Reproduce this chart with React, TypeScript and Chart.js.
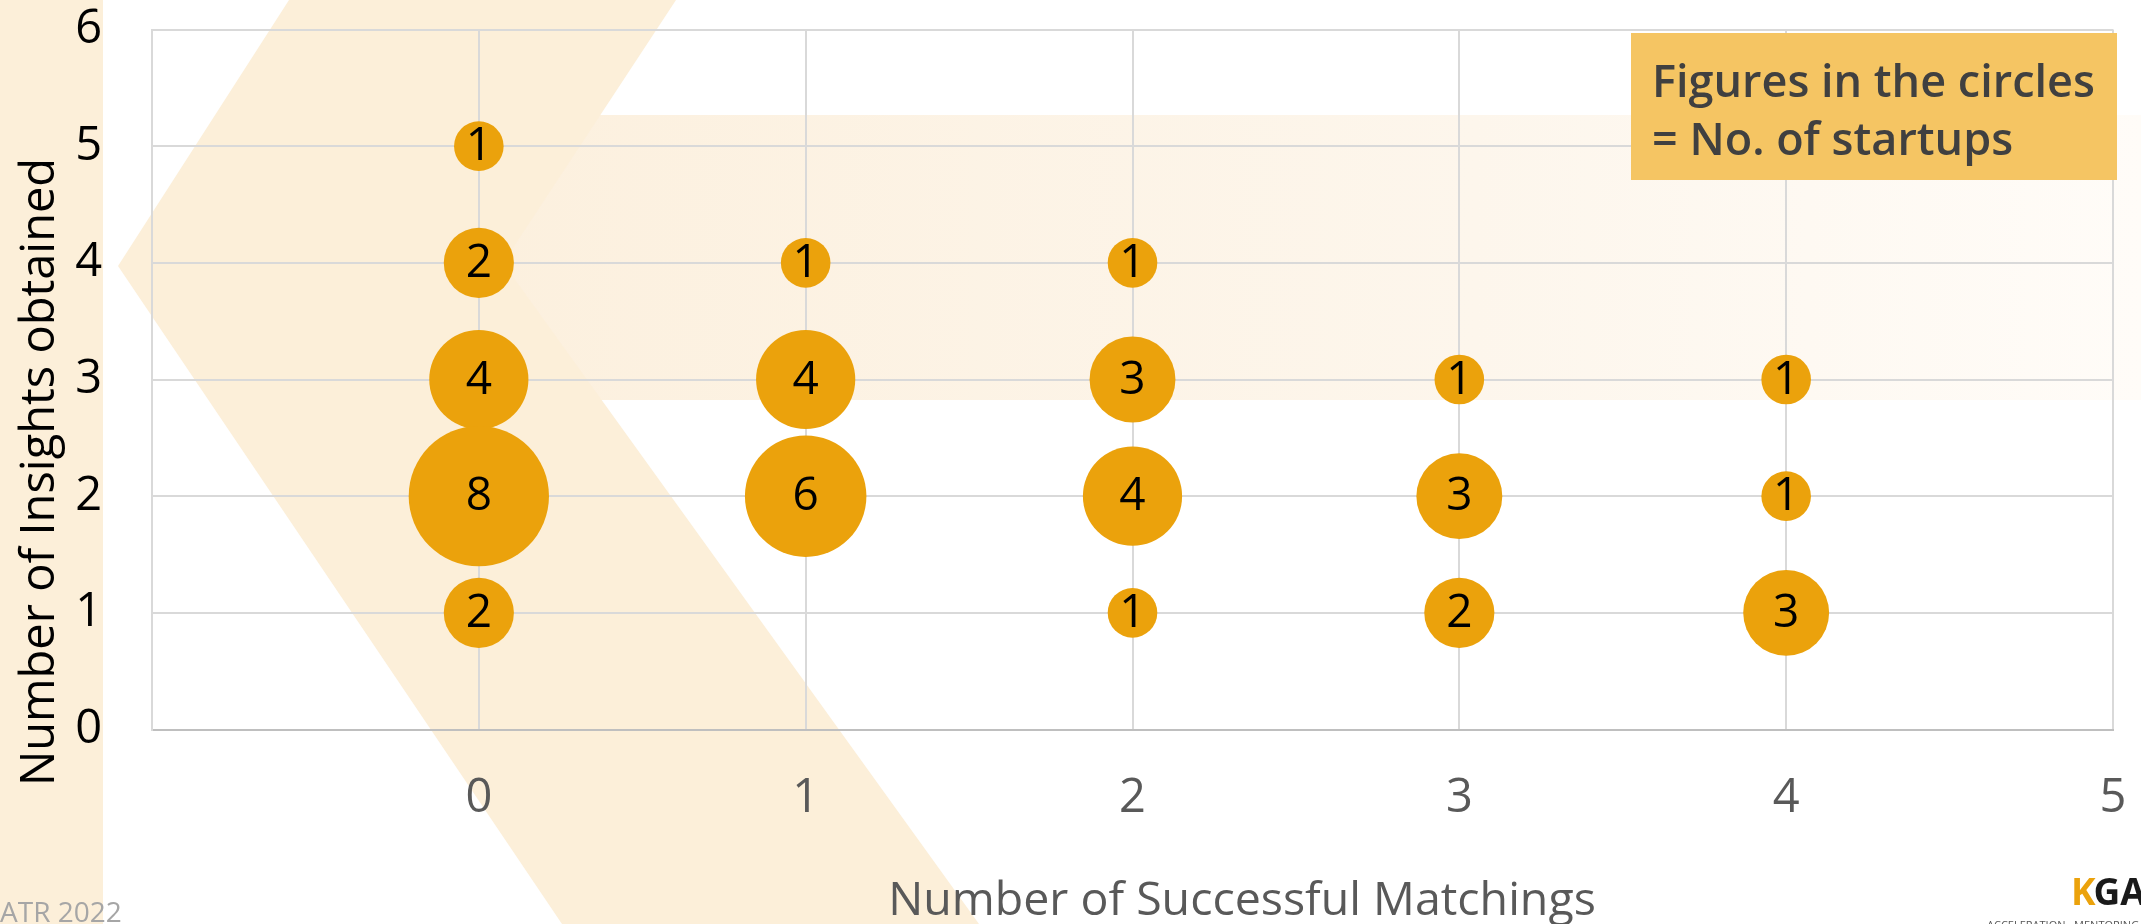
import React, { useEffect, useRef } from "react";
import { Chart, registerables } from "chart.js";

Chart.register(...registerables);

// ---------- data ----------
const matchings = [0, 0, 0, 0, 0, 1, 1, 1, 2, 2, 2, 2, 3, 3, 3, 4, 4, 4];
const insights = [5, 4, 3, 2, 1, 4, 3, 2, 4, 3, 2, 1, 3, 2, 1, 3, 2, 1];
const startups = [1, 2, 4, 8, 2, 1, 4, 6, 1, 3, 4, 1, 1, 3, 2, 1, 1, 3];
const xTickValues = [0, 1, 2, 3, 4, 5];
const yTickValues = [0, 1, 2, 3, 4, 5, 6];
const xTitle = "Number of Successful Matchings";
const yTitle = "Number of Insights obtained";
const noteLines = ["Figures in the circles", "= No. of startups"];
const footerLeft = "ATR 2022";
const logoK = "K";
const logoRest = "GA";
const logoTagline = "ACCELERATION · MENTORING";

// ---------- style ----------
const W = 2141;
const H = 924;
const FONT = '"Open Sans", "Noto Sans", sans-serif';
const BUBBLE = "#EBA20C";
const BEIGE = "#FCEFD9";
const GRID = "#D9D9D9";
const RADIUS_UNIT = 24.8; // px radius for one startup (area ∝ count)

const backgroundPlugin = {
  id: "slideBackground",
  beforeDraw(chart: any) {
    const ctx = chart.ctx as CanvasRenderingContext2D;
    ctx.save();
    ctx.fillStyle = "#FFFFFF";
    ctx.fillRect(0, 0, W, H);
    // left strip
    ctx.fillStyle = BEIGE;
    ctx.fillRect(0, 0, 103, H);
    // horizontal fading band
    const g = ctx.createLinearGradient(480, 0, W, 0);
    g.addColorStop(0, "#FCF0DE");
    g.addColorStop(0.6, "#FDF6EC");
    g.addColorStop(1, "#FFFCF8");
    ctx.fillStyle = g;
    ctx.fillRect(480, 115, W - 480, 285);
    // chevron
    ctx.fillStyle = BEIGE;
    ctx.beginPath();
    ctx.moveTo(289, 0);
    ctx.lineTo(676, 0);
    ctx.lineTo(503, 263);
    ctx.lineTo(979, H);
    ctx.lineTo(562, H);
    ctx.lineTo(118, 266);
    ctx.closePath();
    ctx.fill();
    ctx.restore();
  },
};

const overlayPlugin = {
  id: "overlay",
  afterDatasetsDraw(chart: any) {
    const ctx = chart.ctx as CanvasRenderingContext2D;
    const meta = chart.getDatasetMeta(0);
    ctx.save();
    ctx.fillStyle = "#000000";
    ctx.font = `46px ${FONT}`;
    ctx.textAlign = "center";
    ctx.textBaseline = "middle";
    meta.data.forEach((el: any, i: number) => {
      ctx.fillText(String(startups[i]), el.x, el.y + 1);
    });
    ctx.restore();
  },
  afterDraw(chart: any) {
    const ctx = chart.ctx as CanvasRenderingContext2D;
    ctx.save();
    // axis titles
    ctx.fillStyle = "#595959";
    ctx.font = `46.5px ${FONT}`;
    ctx.textAlign = "center";
    ctx.textBaseline = "alphabetic";
    ctx.fillText(xTitle, 1242, 915);

    ctx.save();
    ctx.translate(54, 472);
    ctx.rotate(-Math.PI / 2);
    ctx.fillStyle = "#000000";
    ctx.font = `47px ${FONT}`;
    ctx.fillText(yTitle, 0, 0);
    ctx.restore();

    // note box
    ctx.fillStyle = "#F5C563";
    ctx.fillRect(1631, 33, 2117 - 1631, 180 - 33);
    ctx.fillStyle = "#404040";
    ctx.font = `600 45px ${FONT}`;
    ctx.textAlign = "left";
    ctx.fillText(noteLines[0], 1652, 97);
    ctx.fillText(noteLines[1], 1652, 155);

    // footer left
    ctx.fillStyle = "#A6A6A6";
    ctx.font = `28px ${FONT}`;
    ctx.fillText(footerLeft, 0, 922);

    // logo
    ctx.font = `700 37px ${FONT}`;
    ctx.fillStyle = BUBBLE;
    ctx.fillText(logoK, 2071, 905);
    const kw = ctx.measureText(logoK).width;
    ctx.fillStyle = "#1A1A1A";
    ctx.fillText(logoRest, 2071 + kw - 2, 905);
    ctx.fillStyle = "#555555";
    ctx.font = `11px ${FONT}`;
    ctx.fillText(logoTagline, 1987, 929);
    ctx.restore();
  },
};

const clearScalePadding = (s: any) => {
  s.paddingTop = 0;
  s.paddingBottom = 0;
  s.paddingLeft = 0;
  s.paddingRight = 0;
};

export default function App() {
  const ref = useRef<HTMLCanvasElement | null>(null);

  useEffect(() => {
    if (!ref.current) return;
    const data = matchings.map((x, i) => ({
      x,
      y: insights[i],
      r: RADIUS_UNIT * Math.sqrt(startups[i]),
    }));
    const chart = new Chart(ref.current, {
      type: "bubble",
      data: {
        datasets: [
          {
            label: "Startups",
            data,
            backgroundColor: BUBBLE,
            borderWidth: 0,
            hoverBorderWidth: 0,
            hoverRadius: 0,
          } as any,
        ],
      },
      plugins: [backgroundPlugin, overlayPlugin],
      options: {
        responsive: false,
        animation: false,
        events: [],
        devicePixelRatio: 1,
        layout: {
          autoPadding: false,
          padding: { left: 0, top: 29.5, right: 28, bottom: 0 },
        },
        plugins: {
          legend: { display: false },
          tooltip: { enabled: false },
          title: { display: false },
        },
        scales: {
          x: {
            type: "linear",
            min: -1,
            max: 5,
            afterBuildTicks: (s: any) => {
              s.ticks = [-1, ...xTickValues].map((v) => ({ value: v }));
            },
            ticks: {
              stepSize: 1,
              color: "#595959",
              font: { family: FONT, size: 47 },
              padding: 41,
              maxRotation: 0,
              autoSkip: false,
              callback: (v: any) => (Number(v) < 0 ? "" : String(v)),
            },
            grid: { color: GRID, lineWidth: 2, drawTicks: false },
            border: { display: true, color: "#BFBFBF", width: 2 },
            afterFit: (s: any) => {
              s.height = 194.5;
              clearScalePadding(s);
            },
          } as any,
          y: {
            type: "linear",
            min: 0,
            max: 6,
            afterBuildTicks: (s: any) => {
              s.ticks = yTickValues.map((v) => ({ value: v }));
            },
            ticks: {
              stepSize: 1,
              color: "#000000",
              font: { family: FONT, size: 47 },
              padding: 50,
              autoSkip: false,
            },
            grid: { color: GRID, lineWidth: 2, drawTicks: false },
            border: { display: true, color: GRID, width: 2 },
            afterFit: (s: any) => {
              s.width = 152;
              clearScalePadding(s);
            },
          } as any,
        },
      },
    });
    const fonts: any = (document as any).fonts;
    if (fonts && fonts.load) {
      Promise.all([
        fonts.load(`46px "Open Sans"`),
        fonts.load(`600 45px "Open Sans"`),
        fonts.load(`700 37px "Open Sans"`),
      ])
        .then(() => chart.update())
        .catch(() => {});
    }
    return () => chart.destroy();
  }, []);

  return (
    <div style={{ position: "absolute", left: 0, top: 0, width: W, height: H, background: "#fff" }}>
      <canvas ref={ref} width={W} height={H} style={{ display: "block", width: W, height: H }} />
    </div>
  );
}
